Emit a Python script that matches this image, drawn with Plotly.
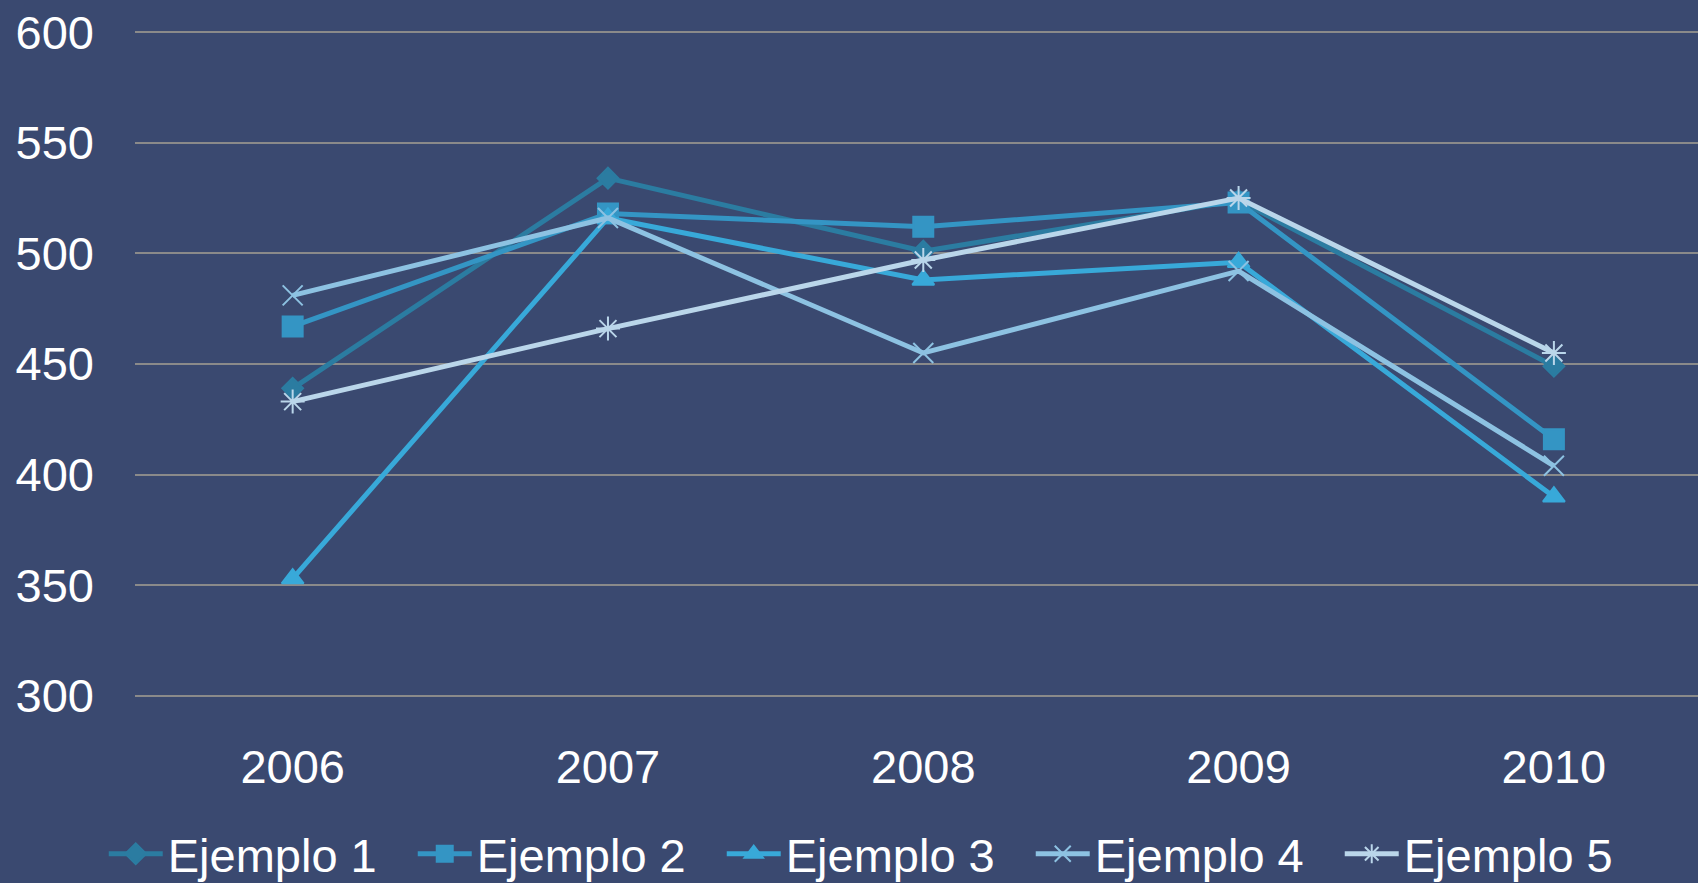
import plotly.graph_objects as go

years = ["2006", "2007", "2008", "2009", "2010"]
series_names = ["Ejemplo 1", "Ejemplo 2", "Ejemplo 3", "Ejemplo 4", "Ejemplo 5"]
ejemplo1 = [439, 534, 501, 524, 449]
ejemplo2 = [467, 518, 512, 523, 416]
ejemplo3 = [353, 516, 488, 496, 390]
ejemplo4 = [481, 516, 455, 492, 404]
ejemplo5 = [433, 466, 497, 525, 455]
y_ticks = [300, 350, 400, 450, 500, 550, 600]

values = [ejemplo1, ejemplo2, ejemplo3, ejemplo4, ejemplo5]
colors = ["#2B7CA1", "#3495C4", "#38A9D9", "#8DC2E2", "#BAD6EA"]
symbols = ["diamond", "square", "triangle-up", "x-thin-open", "asterisk-open"]
sizes = [16, 20, 19, 20, 20]

fig = go.Figure()
for name, vals, c, s, sz in zip(series_names, values, colors, symbols, sizes):
    fig.add_trace(go.Scatter(
        x=years, y=vals, name=name, mode="lines+markers",
        line=dict(color=c, width=5),
        marker=dict(symbol=s, size=sz, color=c, line=dict(color=c, width=2)),
    ))

FONT = "Liberation Sans, Arial, sans-serif"
fig.update_layout(
    width=1698, height=883,
    template="none",
    paper_bgcolor="#3A4970",
    plot_bgcolor="#3A4970",
    margin=dict(l=135, r=0, t=31.4, b=186.4, pad=0, autoexpand=False),
    font=dict(family=FONT, size=47, color="#FFFFFF"),
    showlegend=True,
    legend=dict(
        orientation="h", x=-0.02, xanchor="left", y=-0.236, yanchor="middle",
        font=dict(family=FONT, size=47, color="#FFFFFF"),
        itemwidth=54,
        entrywidth=240, entrywidthmode="pixels",
        bgcolor="rgba(0,0,0,0)", borderwidth=0,
        traceorder="normal",
    ),
    xaxis=dict(
        type="category", range=[-0.5, 4.457],
        showgrid=False, zeroline=False, showline=False, ticks="",
        tickfont=dict(family=FONT, size=47, color="#FFFFFF"),
        ticklabelstandoff=38, automargin=False,
    ),
    yaxis=dict(
        range=[299.5, 600.5], tickvals=y_ticks,
        showgrid=True, gridcolor="#8A8A8A", gridwidth=1.5,
        zeroline=False, showline=False, ticks="",
        tickfont=dict(family=FONT, size=47, color="#FFFFFF"),
        ticklabelstandoff=40, automargin=False,
    ),
)

fig.write_html(
    "out.html",
    config={"displayModeBar": False},
    post_script="document.body.style.margin='0';document.body.style.background='#3A4970';",
)
